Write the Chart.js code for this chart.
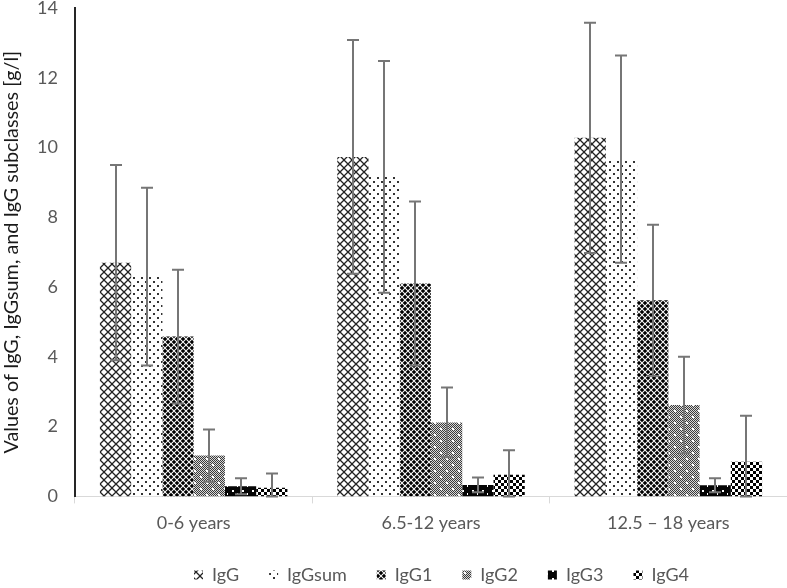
<!DOCTYPE html>
<html>
<head>
<meta charset="utf-8">
<script src="https://cdn.jsdelivr.net/npm/chart.js@4"></script>
<style>
  html, body { margin: 0; padding: 0; background: #fff; }
  #wrap { width: 787px; height: 588px; position: relative; }
</style>
</head>
<body>
<div id="wrap"><canvas id="c"></canvas></div>
<script>
// ---- data ----
const categories = ['0-6 years', '6.5-12 years', '12.5 \u2013 18 years'];
const seriesNames = ['IgG', 'IgGsum', 'IgG1', 'IgG2', 'IgG3', 'IgG4'];
const igg     = [6.70, 9.73, 10.28];
const iggSum  = [6.30, 9.16, 9.67];
const igg1    = [4.58, 6.10, 5.62];
const igg2    = [1.17, 2.12, 2.62];
const igg3    = [0.29, 0.33, 0.32];
const igg4    = [0.25, 0.62, 0.99];
const iggSD    = [2.80, 3.35, 3.30];
const iggSumSD = [2.55, 3.32, 2.97];
const igg1SD   = [1.92, 2.35, 2.17];
const igg2SD   = [0.75, 1.00, 1.38];
const igg3SD   = [0.23, 0.21, 0.20];
const igg4SD   = [0.41, 0.70, 1.32];
const yTicks = [0, 2, 4, 6, 8, 10, 12, 14];

// ---- patterns ----
function tile(w, h, draw) {
  const c = document.createElement('canvas');
  c.width = w; c.height = h;
  const g = c.getContext('2d');
  g.fillStyle = '#fff'; g.fillRect(0, 0, w, h);
  draw(g, w, h);
  return document.getElementById('c').getContext('2d').createPattern(c, 'repeat');
}
function diamond(g, cx, cy, r, col) {
  g.fillStyle = col;
  g.beginPath();
  g.moveTo(cx, cy - r); g.lineTo(cx + r, cy); g.lineTo(cx, cy + r); g.lineTo(cx - r, cy);
  g.closePath(); g.fill();
}
const patIgG = tile(8, 8, (g) => {
  g.strokeStyle = '#222'; g.lineWidth = 1.3;
  g.beginPath();
  g.moveTo(-1, -1); g.lineTo(9, 9);
  g.moveTo(9, -1); g.lineTo(-1, 9);
  g.stroke();
});
const patSum = tile(8, 8, (g) => {
  g.fillStyle = '#333';
  g.fillRect(1, 1, 2, 2);
  g.fillRect(5, 5, 2, 2);
});
const patG1 = tile(6, 6, (g) => {
  [[0,0],[6,0],[0,6],[6,6],[3,3]].forEach(p => diamond(g, p[0], p[1], 2.3, '#000'));
});
const patG2 = tile(12, 12, (g) => {
  for (let y = 0; y < 12; y++) for (let x = 0; x < 12; x++) {
    g.fillStyle = ((x + y) % 2 === 0) ? '#3a3a3a' : '#d8d8d8';
    g.fillRect(x, y, 1, 1);
  }
  g.fillStyle = '#fff';
  g.fillRect(2, 2, 2, 2);
  g.fillRect(8, 8, 2, 2);
});
const patG3 = tile(10, 8, (g) => {
  g.fillStyle = '#050505'; g.fillRect(0, 0, 10, 8);
  g.fillStyle = '#fff';
  g.fillRect(2, 2, 2, 2);
  g.fillRect(7, 5, 1, 2);
});
const patG4 = tile(6, 6, (g) => {
  g.fillStyle = '#000';
  g.fillRect(0, 0, 3, 3);
  g.fillRect(3, 3, 3, 3);
});

const values = [igg, iggSum, igg1, igg2, igg3, igg4];
const sds = [iggSD, iggSumSD, igg1SD, igg2SD, igg3SD, igg4SD];
const patterns = [patIgG, patSum, patG1, patG2, patG3, patG4];

const datasets = seriesNames.map((n, i) => ({
  label: n,
  data: values[i],
  sd: sds[i],
  backgroundColor: patterns[i],
  borderWidth: 0,
  categoryPercentage: 0.79,
  barPercentage: 1.0
}));

const errorBars = {
  id: 'errorBars',
  afterDatasetsDraw(chart) {
    const ctx = chart.ctx;
    const ys = chart.scales.y;
    ctx.save();
    ctx.strokeStyle = '#767676';
    ctx.lineWidth = 2;
    chart.data.datasets.forEach((ds, i) => {
      const meta = chart.getDatasetMeta(i);
      meta.data.forEach((bar, j) => {
        const v = ds.data[j], e = ds.sd[j];
        const x = Math.round(bar.x);
        const yt = ys.getPixelForValue(v + e);
        const yb = ys.getPixelForValue(Math.max(0, v - e));
        ctx.beginPath();
        ctx.moveTo(x, yt); ctx.lineTo(x, yb);
        ctx.moveTo(x - 6, yt); ctx.lineTo(x + 6, yt);
        ctx.moveTo(x - 6, yb); ctx.lineTo(x + 6, yb);
        ctx.stroke();
      });
    });
    ctx.restore();
  }
};

// shift legend horizontally/vertically after layout
const legendShift = {
  id: 'legendShift',
  afterLayout(chart) {
    const L = chart.legend;
    if (!L) return;
    const dx = 48, dy = -7;
    L.left += dx; L.right += dx;
    L.top += dy; L.bottom += dy;
  }
};

const FONT = 'Lato, "Open Sans", sans-serif';

new Chart(document.getElementById('c'), {
  type: 'bar',
  data: { labels: categories, datasets },
  options: {
    responsive: true,
    maintainAspectRatio: false,
    animation: false,
    layout: { padding: { top: 0, right: 0, bottom: -13, left: 0 } },
    plugins: {
      tooltip: { enabled: false },
      legend: {
        position: 'bottom',
        labels: {
          boxWidth: 9, boxHeight: 9,
          padding: 30,
          color: '#595959',
          font: { family: FONT, size: 18 }
        }
      }
    },
    scales: {
      x: {
        grid: { offset: true, drawOnChartArea: false, drawTicks: true, tickLength: 7, color: '#d9d9d9', lineWidth: 1 },
        border: { display: true, color: '#d9d9d9', width: 1 },
        ticks: { color: '#595959', font: { family: FONT, size: 18 }, padding: 9 }
      },
      y: {
        min: 0, max: 14,
        afterFit(s) { s.width = 75; },
        afterBuildTicks(s) { s.ticks = yTicks.map(v => ({ value: v })); },
        grid: { display: false, drawTicks: true, tickLength: 18 },
        border: { display: true, color: '#262626', width: 2 },
        ticks: { color: '#595959', font: { family: FONT, size: 18, lineHeight: 1.0 }, padding: -1 },
        title: {
          display: true,
          text: 'Values of IgG, IgGsum, and IgG subclasses [g/l]',
          color: '#1a1a1a',
          font: { family: FONT, size: 19.8 },
          padding: { top: 0, bottom: 0 }
        }
      }
    }
  },
  plugins: [errorBars, legendShift]
});
</script>
</body>
</html>
